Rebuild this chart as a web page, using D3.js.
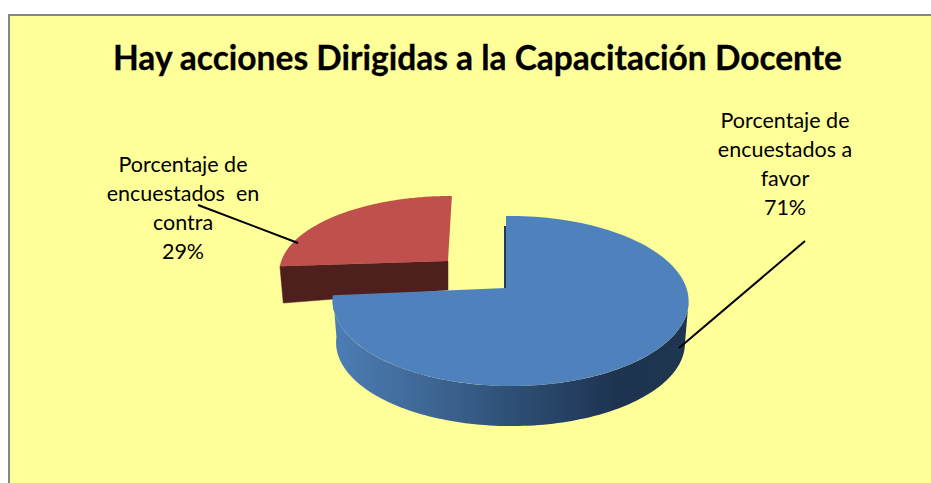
<!DOCTYPE html>
<html><head><meta charset="utf-8">
<script src="https://cdn.jsdelivr.net/npm/d3@7/dist/d3.min.js"></script>
<style>html,body{margin:0;padding:0;background:#fff}svg{display:block}text{font-family:Lato,"Open Sans",sans-serif;fill:#000}</style>
</head><body><svg id="c" width="931" height="483"></svg>
<script>
const titleText = "Hay acciones Dirigidas a la Capacitación Docente";
const categories = ["Porcentaje de encuestados a favor", "Porcentaje de encuestados en contra"];
const values = [71, 29];
const labelLines = [["Porcentaje de", "encuestados a", "favor"], ["Porcentaje de", "encuestados  en", "contra"]];

const K = 0.153, M = 0.0256, DEG = Math.PI / 180;
const geoms = [
  {cx: 506, cy: 288, R: 175.8, Ry: 83, warp0: 0, warp1: 9.4 * DEG, depth: 42, bottomScale: 0.98,
   top: "#4F81BD", wall: "#4F1F1E"},
  {cx: 448, cy: 261, R: 171, Ry: 75, warp0: 10.4 * DEG, warp1: 1.5 * DEG, depth: 37, bottomScale: 0.98,
   top: "#C0504D", wall: "#4F1F1E"}
];
const labelPos = [{x: 785, y: 128}, {x: 183, y: 172}];
const leaders = [[[805, 241], [679, 348]], [[198, 205], [298, 243]]];
const lineGap = 29;

function project(theta, g, rs = 1, dy = 0) {
  const f = 1 / (1 + K * Math.cos(theta) - M * Math.sin(theta));
  return [g.cx + g.R * rs * Math.sin(theta) * f, g.cy + dy - g.Ry * rs * Math.cos(theta) * f];
}
const svg = d3.select("#c");
const defs = svg.append("defs");
const grad = defs.append("linearGradient").attr("id", "blueWall")
  .attr("gradientUnits", "userSpaceOnUse").attr("x1", 334).attr("x2", 688).attr("y1", 0).attr("y2", 0);
[[0, "#4C7DB6"], [0.25, "#3F6896"], [0.55, "#2B4B70"], [0.8, "#1D3350"], [1, "#1F3650"]]
  .forEach(([o, c]) => grad.append("stop").attr("offset", o).attr("stop-color", c));

svg.append("rect").attr("x", 9).attr("y", 15).attr("width", 930).attr("height", 480)
  .attr("fill", "#FFFF99").attr("stroke", "#868686").attr("stroke-width", 2);

svg.append("text").attr("x", 477.5).attr("y", 70).attr("text-anchor", "middle")
  .attr("font-size", 33.5).attr("font-weight", 700).attr("stroke", "#000").attr("stroke-width", 0.3).text(titleText);

const pie = d3.pie().sort(null).value(d => d);
const arcs = pie(values);
const line = d3.line();
const span = (a, b, n = 120) => d3.range(n + 1).map(i => a + (b - a) * i / n);

function drawRed(arc, g) {
  const a0 = arc.startAngle + g.warp0, a1 = arc.endAngle + g.warp1;
  const apex = [g.cx, g.cy], L = project(a0, g), Lb = project(a0, g, g.bottomScale, g.depth);
  const bottomApex = [g.cx, g.cy + g.depth - 8];
  svg.append("path").attr("d", line([L, apex, bottomApex, Lb]) + "Z").attr("fill", g.wall).attr("stroke", g.wall).attr("stroke-width", .5);
  svg.append("path").attr("d", line([apex, ...span(a0, a1).map(t => project(t, g))]) + "Z").attr("fill", g.top);
}
function drawBlue(arc, g) {
  const a0 = arc.startAngle + g.warp0, a1 = arc.endAngle + g.warp1;
  const apex = [g.cx, g.cy], back = project(a0, g);
  svg.append("path").attr("d", line([[apex[0], apex[1] + 1], [back[0], back[1] + 10], [back[0] - 2, back[1] + 10], [apex[0] - 2, apex[1] + 1]]) + "Z").attr("fill", "#1F3A5A");
  const t0 = Math.acos(-K);
  const topEdge = span(t0, a1).map(t => project(t, g));
  const botEdge = span(a1, t0).map(t => project(t, g, g.bottomScale, g.depth));
  svg.append("path").attr("d", line([...topEdge, ...botEdge]) + "Z").attr("fill", "url(#blueWall)");
  svg.append("path").attr("d", line([apex, ...span(a0, a1).map(t => project(t, g))]) + "Z").attr("fill", g.top);
}
drawRed(arcs[1], geoms[1]);
drawBlue(arcs[0], geoms[0]);

leaders.forEach(l => svg.append("path").attr("d", line(l)).attr("stroke", "#000").attr("stroke-width", 2).attr("fill", "none"));

const total = d3.sum(values);
labelLines.forEach((ls, i) => {
  const t = svg.append("text").attr("text-anchor", "middle").attr("font-size", 21.5).attr("xml:space", "preserve");
  [...ls, d3.format(".0%")(values[i] / total)].forEach((s, j) =>
    t.append("tspan").attr("x", labelPos[i].x).attr("y", labelPos[i].y + j * lineGap).text(s));
});
</script></body></html>
